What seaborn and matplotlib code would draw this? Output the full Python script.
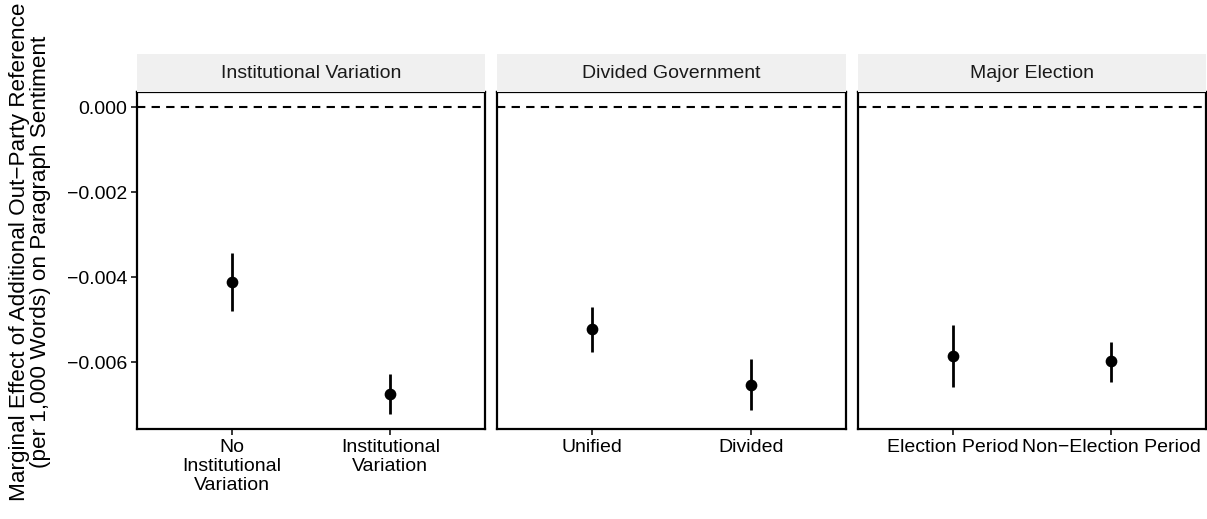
import numpy as np
import pandas as pd
import matplotlib
matplotlib.use("Agg")
import matplotlib.pyplot as plt
import seaborn as sns

sns.set_theme(style="white")
plt.rcParams["font.family"] = ["Liberation Sans", "DejaVu Sans"]

# Facet titles and category labels per facet
facets = ["Institutional Variation", "Divided Government", "Major Election"]
categories = [
    ["No\nInstitutional\nVariation", "Institutional\nVariation"],
    ["Unified", "Divided"],
    ["Election Period", "Non\u2212Election Period"],
]
# Marginal effect estimates and 95% interval bounds
estimates = [[-0.00411, -0.00674], [-0.00522, -0.00653], [-0.00585, -0.00598]]
lower = [[-0.00480, -0.00721], [-0.00577, -0.00712], [-0.00658, -0.00647]]
upper = [[-0.00343, -0.00628], [-0.00470, -0.00592], [-0.00513, -0.00552]]
y_ticks = [0.000, -0.002, -0.004, -0.006]

rows = []
for f, cats, est, lo, hi in zip(facets, categories, estimates, lower, upper):
    for c, e, l, h in zip(cats, est, lo, hi):
        rows.append({"facet": f, "category": c, "estimate": e, "lower": l, "upper": h})
df = pd.DataFrame(rows)

W, H = 1207, 519
fig = plt.figure(figsize=(W / 100, H / 100), dpi=100)

left_px, right_px, gap_px = 137, 1206, 12
top_px, bottom_px, strip_top_px = 92, 429, 54
pw = (right_px - left_px - 2 * gap_px) / 3

lo_all = min(min(l) for l in lower)
hi_all = 0.0
span = hi_all - lo_all
ylim = (lo_all - 0.05 * span, hi_all + 0.05 * span)

fs = 14.0
for i, f in enumerate(facets):
    x0 = left_px + i * (pw + gap_px)
    ax = fig.add_axes([x0 / W, 1 - bottom_px / H, pw / W, (bottom_px - top_px) / H])
    sub = df[df["facet"] == f].reset_index(drop=True)
    pos = np.arange(len(sub))
    ax.axhline(0, color="black", lw=1.5, ls=(0, (4, 3)), zorder=1)
    ax.vlines(pos, sub["lower"], sub["upper"], color="black", lw=2.0, zorder=2)
    sns.pointplot(data=sub, x="category", y="estimate", order=list(sub["category"]),
                  color="black", linestyle="none", errorbar=None, markers="o",
                  markersize=6.4, ax=ax, zorder=3)
    ax.set_xlim(-0.6, len(sub) - 1 + 0.6)
    ax.set_ylim(*ylim)
    ax.set_xlabel("")
    ax.set_ylabel("")
    for s in ax.spines.values():
        s.set_visible(True)
        s.set_color("black")
        s.set_linewidth(1.6)
    ax.tick_params(axis="x", direction="out", length=4, width=1.1, color="black",
                   labelsize=fs, labelcolor="black", pad=3, bottom=True)
    for lab in ax.get_xticklabels():
        lab.set_linespacing(1.17)
        lab.set_verticalalignment("top")
    if i == 0:
        ax.set_yticks(y_ticks)
        ax.set_yticklabels([("\u2212" if t < 0 else "") + f"{abs(t):.3f}" for t in y_ticks])
        ax.tick_params(axis="y", direction="out", length=4, width=1.1, color="black",
                       labelsize=fs, labelcolor="black", pad=3, left=True)
    else:
        ax.set_yticks(y_ticks)
        ax.tick_params(axis="y", left=False, labelleft=False)

    sax = fig.add_axes([x0 / W, 1 - top_px / H, pw / W, (top_px - strip_top_px) / H])
    sax.set_facecolor("#F0F0F0")
    sax.set_xticks([])
    sax.set_yticks([])
    for s in sax.spines.values():
        s.set_visible(False)
    sax.text(0.5, 0.5, f, ha="center", va="center", fontsize=fs,
             color="#1A1A1A", transform=sax.transAxes)

fig.text(30 / W, 1 - 252 / H,
         "Marginal Effect of Additional Out\u2212Party Reference\n(per 1,000 Words) on Paragraph Sentiment",
         rotation=90, ha="center", va="center", fontsize=16.2, linespacing=0.95,
         color="black")

fig.savefig("out.png", dpi=100)
